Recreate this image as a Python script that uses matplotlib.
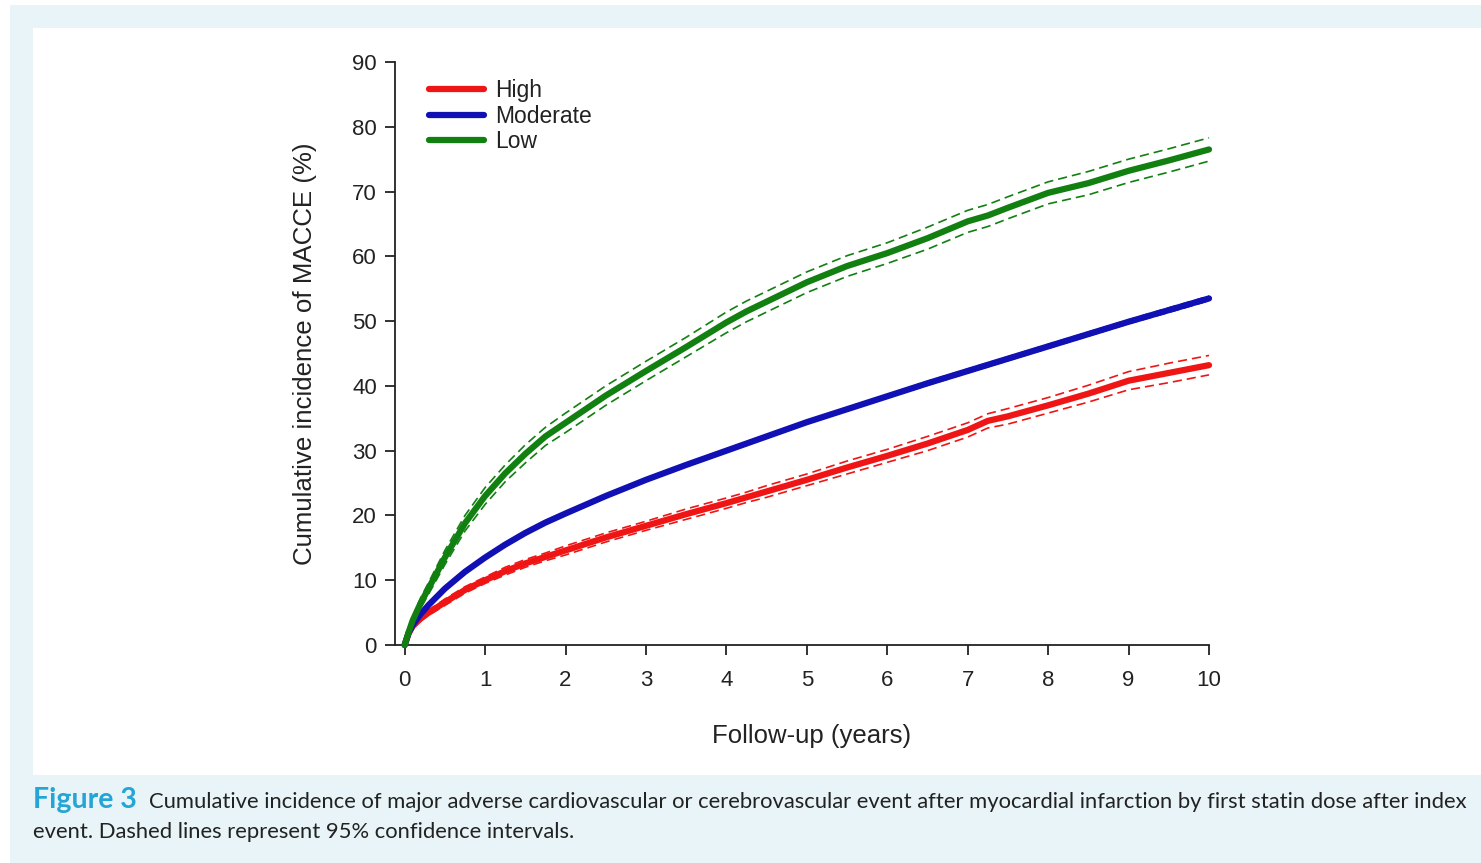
import matplotlib
matplotlib.use("Agg")
import matplotlib.pyplot as plt
from matplotlib.patches import Rectangle

plt.rcParams['font.family'] = ['Liberation Sans', 'DejaVu Sans']

# follow-up time (years)
years = [0, 0.05, 0.1, 0.2, 0.3, 0.5, 0.75, 1, 1.25, 1.5, 1.75, 2, 2.5, 3, 3.5,
         4, 4.25, 4.5, 5, 5.5, 6, 6.5, 7, 7.25, 7.5, 8, 8.5, 9, 9.5, 10]

# cumulative incidence of MACCE (%) by statin dose
high = [0, 1.8, 2.9, 4.1, 5.0, 6.6, 8.5, 10.0, 11.4, 12.6, 13.6, 14.6, 16.6, 18.4, 20.2,
        21.9, 22.8, 23.7, 25.5, 27.4, 29.2, 31.1, 33.2, 34.6, 35.3, 37.0, 38.8, 40.8, 42.0, 43.2]
moderate = [0, 1.9, 3.1, 4.8, 6.2, 8.7, 11.3, 13.5, 15.5, 17.3, 18.9, 20.3, 23.0, 25.5, 27.8,
            30.0, 31.1, 32.2, 34.4, 36.4, 38.4, 40.4, 42.3, 43.25, 44.2, 46.1, 48.0, 49.9, 51.7, 53.5]
low = [0, 2.0, 3.8, 6.5, 8.8, 13.5, 18.8, 23.0, 26.5, 29.5, 32.2, 34.3, 38.5, 42.3, 46.0,
       49.8, 51.5, 53.0, 56.0, 58.5, 60.5, 62.8, 65.4, 66.3, 67.5, 69.8, 71.3, 73.2, 74.8, 76.5]

# half width of 95% CI
high_ci = [0, 0.2, 0.3, 0.4, 0.4, 0.5, 0.5, 0.5, 0.6, 0.6, 0.6, 0.7, 0.7, 0.7, 0.8,
           0.8, 0.8, 0.9, 0.9, 1.0, 1.0, 1.1, 1.1, 1.1, 1.2, 1.2, 1.3, 1.4, 1.5, 1.5]
moderate_ci = [0, 0.1, 0.1, 0.15, 0.15, 0.2, 0.2, 0.2, 0.2, 0.2, 0.2, 0.2, 0.2, 0.2, 0.25,
               0.25, 0.25, 0.25, 0.25, 0.25, 0.25, 0.3, 0.3, 0.3, 0.3, 0.3, 0.3, 0.3, 0.35, 0.35]
low_ci = [0, 0.4, 0.6, 0.8, 0.9, 1.1, 1.2, 1.3, 1.3, 1.4, 1.4, 1.5, 1.5, 1.5, 1.5,
          1.6, 1.6, 1.6, 1.6, 1.6, 1.6, 1.7, 1.7, 1.7, 1.7, 1.7, 1.8, 1.8, 1.8, 1.8]

series = [('High', high, high_ci, '#f01515'),
          ('Moderate', moderate, moderate_ci, '#1010b4'),
          ('Low', low, low_ci, '#118011')]

fig = plt.figure(figsize=(14.81, 8.63), dpi=100)
fig.patch.set_facecolor('white')

# background panels (journal style)
fig.patches.append(Rectangle((10 / 1481, 0), 1, 858 / 863, transform=fig.transFigure,
                             facecolor='#e8f4f7', edgecolor='none', zorder=-2))
fig.patches.append(Rectangle((33 / 1481, 88 / 863), 1, 747 / 863, transform=fig.transFigure,
                             facecolor='white', edgecolor='none', zorder=-1))

ax = fig.add_axes([395 / 1481, 218 / 863, 814 / 1481, 583 / 863])
ax.set_facecolor('none')

handles = []
for name, vals, ci, col in series:
    lo = [v - c for v, c in zip(vals, ci)]
    hi = [v + c for v, c in zip(vals, ci)]
    ax.plot(years, lo, color=col, lw=1.2, dashes=(5.5, 3), clip_on=False, zorder=2)
    ax.plot(years, hi, color=col, lw=1.2, dashes=(5.5, 3), clip_on=False, zorder=2)
    h, = ax.plot(years, vals, color=col, lw=4.5, solid_capstyle='round',
                 solid_joinstyle='round', clip_on=False, zorder=3, label=name)
    handles.append(h)

ax.set_xlim(-0.12, 10)
ax.set_ylim(0, 90)
ax.set_xticks(range(0, 11))
ax.set_yticks(range(0, 91, 10))
for s in ['top', 'right']:
    ax.spines[s].set_visible(False)
for s in ['left', 'bottom']:
    ax.spines[s].set_linewidth(1.3)
    ax.spines[s].set_color('#222222')
ax.tick_params(length=7, width=1.3, labelsize=16, colors='#222222', pad=6)
ax.tick_params(axis='x', pad=11)

ax.set_xlabel('Follow-up (years)', fontsize=18.5, color='#222222', labelpad=24)
ax.xaxis.label.set_x(0.512)
ax.set_ylabel('Cumulative incidence of MACCE (%)', fontsize=18.6, color='#222222', labelpad=25)

leg = ax.legend(handles=handles, loc='upper left', bbox_to_anchor=(0.03, 0.986),
                frameon=False, fontsize=16.5, handlelength=2.4, handletextpad=0.5,
                labelspacing=0.1, borderaxespad=0)
for t in leg.get_texts():
    t.set_color('#222222')

# caption
cap_font = ['Lato', 'DejaVu Sans']
t1 = fig.text(33 / 1481, 1 - 808 / 863, 'Figure 3', fontsize=20.5, fontweight='bold',
              color='#25a4d6', family=cap_font, va='baseline')
fig.canvas.draw()
bb = t1.get_window_extent()
x_next = (bb.x1 + 12) / fig.bbox.width
fig.text(x_next, 1 - 808 / 863,
         'Cumulative incidence of major adverse cardiovascular or cerebrovascular event '
         'after myocardial infarction by first statin dose after index',
         fontsize=15.8, color='#222222', family=cap_font, va='baseline')
fig.text(33 / 1481, 1 - 838 / 863,
         'event. Dashed lines represent 95% confidence intervals.',
         fontsize=15.8, color='#222222', family=cap_font, va='baseline')

fig.savefig('out.png', dpi=100)
